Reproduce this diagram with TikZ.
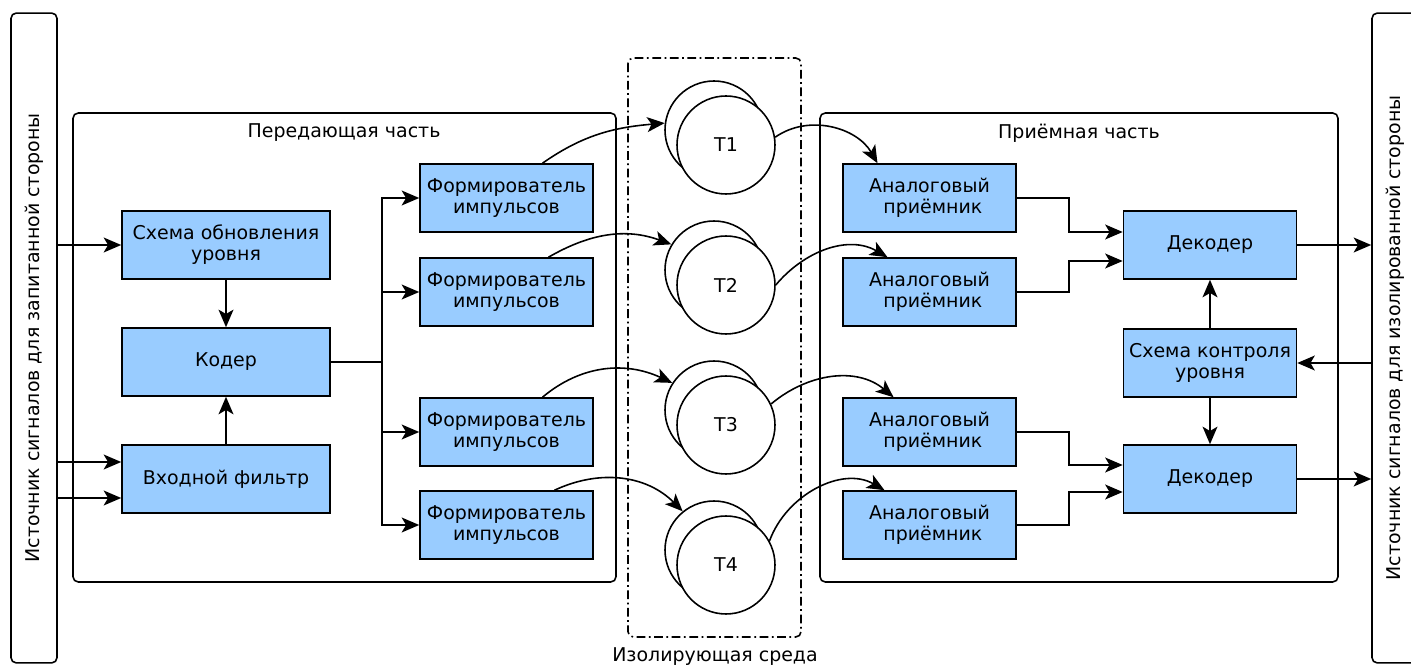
\documentclass[tikz,border=0pt]{standalone}
\usepackage{fontspec}
\setmainfont{DejaVu Sans}
\usetikzlibrary{calc,arrows.meta}
\definecolor{boxblue}{HTML}{99CCFF}

\begin{document}
\begin{tikzpicture}[x=0.02cm,y=-0.02cm,line width=0.9pt,
	>={Stealth[length=10pt,width=8.5pt,inset=2.5pt]},
	every node/.style={font=\fontsize{10.8}{12}\selectfont},
	blk/.style={draw,fill=boxblue,align=center,inner sep=0pt,minimum width=3.46cm,minimum height=1.36cm},
	wide/.style={blk,minimum width=4.16cm},
	tr/.style={draw,circle,fill=white,inner sep=0pt,minimum size=1.96cm},
	bar/.style={draw,rounded corners=3pt,rotate=90,minimum width=13cm,minimum height=0.92cm},
	part/.style={draw,rounded corners=3pt}]
		\clip (0,0) rectangle (1411,668);

		% Signal sources
		\node[bar] (src) at (34,338) {Источник сигналов для запитанной стороны};
		\node[bar] (dst) at (1395,338) {Источник сигналов для изолированной стороны};

		% Transmitting part
		\draw[part] (73,113) rectangle (616,582);
		\node (txt) at (344,133) {Передающая часть};
		\node[wide] (upd) at (226,245) {Схема обновления\\уровня};
		\node[wide] (coder) at (226,362) {Кодер};
		\node[wide] (filt) at (226,479) {Входной фильтр};
		\node[blk] (f1) at (506.5,198) {Формирователь\\импульсов};
		\node[blk] (f2) at (506.5,292) {Формирователь\\импульсов};
		\node[blk] (f3) at (506.5,432) {Формирователь\\импульсов};
		\node[blk] (f4) at (506.5,525) {Формирователь\\импульсов};
		\coordinate (split) at (382,362);
		\coordinate (fin1) at ($(filt.west)+(0,-17)$);
		\coordinate (fin2) at ($(filt.west)+(0,19)$);

		\draw[->] (upd -| src.south) -- (upd);
		\draw[->] (fin1 -| src.south) -- (fin1);
		\draw[->] (fin2 -| src.south) -- (fin2);
		\draw[->] (upd) -- (coder);
		\draw[->] (filt) -- (coder);
		\draw (coder) -- (split);
		\draw[->] (split) |- (f1);
		\draw[->] (split) |- (f2);
		\draw[->] (split) |- (f3);
		\draw[->] (split) |- (f4);

		% Isolating medium
		\draw[dash pattern=on 5pt off 2pt on 1pt off 2pt,rounded corners=3pt] (628,58) rectangle (801,637);
		\node (medt) at (715,657) {Изолирующая среда};
		\node[tr] (t1b) at (714,130) {};
		\node[tr] (t1) at (726,145) {T1};
		\node[tr] (t2b) at (714,270) {};
		\node[tr] (t2) at (726,285) {T2};
		\node[tr] (t3b) at (714,410) {};
		\node[tr] (t3) at (726,425) {T3};
		\node[tr] (t4b) at (714,550) {};
		\node[tr] (t4) at (726,565) {T4};

		\draw[->] ($(f1.north)+(36,0)$) to[out=35,in=185] (t1b.172);
		\draw[->] ($(f2.north)+(42,0)$) to[out=30,in=160] (t2b.149);
		\draw[->] ($(f3.north)+(36,0)$) to[out=40,in=155] (t3b.147);
		\draw[->] ($(f4.north)+(48,0)$) to[out=25,in=135] (t4b.129);

		% Receiving part
		\draw[part] (820,113) rectangle (1338,582);
		\node (rxt) at (1079,133) {Приёмная часть};
		\node[blk] (a1) at (929.5,198) {Аналоговый\\\hspace*{0.35em}приёмник};
		\node[blk] (a2) at (929.5,292) {Аналоговый\\\hspace*{0.35em}приёмник};
		\node[blk] (a3) at (929.5,432) {Аналоговый\\\hspace*{0.35em}приёмник};
		\node[blk] (a4) at (929.5,525) {Аналоговый\\\hspace*{0.35em}приёмник};
		\node[blk] (dec1) at (1210,245) {Декодер};
		\node[blk] (ctrl) at (1210,363) {Схема контроля\\уровня};
		\node[blk] (dec2) at (1210,479) {Декодер};

		\draw[->] (t1.9) to[out=35,in=120] ($(a1.north)+(-52,0)$);
		\draw[->] (t2.0) to[out=50,in=150] ($(a2.north)+(-42,0)$);
		\draw[->] (t3.25) to[out=40,in=140] ($(a3.north)+(-36,0)$);
		\draw[->] (t4.29) to[out=70,in=150] ($(a4.north)+(-45,0)$);

		\draw[->] (a1.east) -- ++(52,0) |- ($(dec1.west)+(0,-13)$);
		\draw[->] (a2.east) -- ++(52,0) |- ($(dec1.west)+(0,16)$);
		\draw[->] (a3.east) -- ++(52,0) |- ($(dec2.west)+(0,-14)$);
		\draw[->] (a4.east) -- ++(52,0) |- ($(dec2.west)+(0,13)$);
		\draw[->] (ctrl) -- (dec1);
		\draw[->] (ctrl) -- (dec2);
		\draw[->] (ctrl -| dst.north) -- (ctrl);
		\draw[->] (dec1) -- (dec1 -| dst.north);
		\draw[->] (dec2) -- (dec2 -| dst.north);
	\end{tikzpicture}
\end{document}
